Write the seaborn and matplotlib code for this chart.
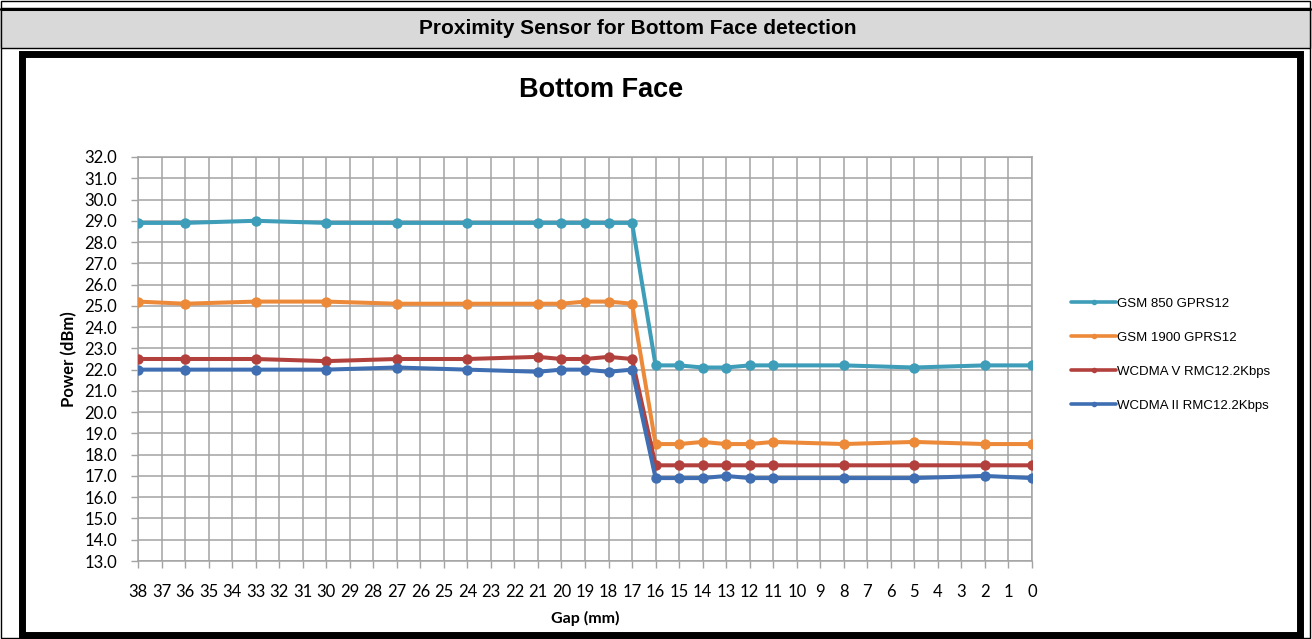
import matplotlib
matplotlib.use("Agg")
import matplotlib.pyplot as plt
from matplotlib.patches import Rectangle
from matplotlib.lines import Line2D
import seaborn as sns
import pandas as pd

gaps = [38, 36, 33, 30, 27, 24, 21, 20, 19, 18, 17, 16, 15, 14, 13, 12, 11, 8, 5, 2, 0]
gsm850 = [28.9, 28.9, 29.0, 28.9, 28.9, 28.9, 28.9, 28.9, 28.9, 28.9, 28.9,
          22.2, 22.2, 22.1, 22.1, 22.2, 22.2, 22.2, 22.1, 22.2, 22.2]
gsm1900 = [25.2, 25.1, 25.2, 25.2, 25.1, 25.1, 25.1, 25.1, 25.2, 25.2, 25.1,
           18.5, 18.5, 18.6, 18.5, 18.5, 18.6, 18.5, 18.6, 18.5, 18.5]
wcdma5 = [22.5, 22.5, 22.5, 22.4, 22.5, 22.5, 22.6, 22.5, 22.5, 22.6, 22.5,
          17.5, 17.5, 17.5, 17.5, 17.5, 17.5, 17.5, 17.5, 17.5, 17.5]
wcdma2 = [22.0, 22.0, 22.0, 22.0, 22.1, 22.0, 21.9, 22.0, 22.0, 21.9, 22.0,
          16.9, 16.9, 16.9, 17.0, 16.9, 16.9, 16.9, 16.9, 17.0, 16.9]
series_names = ["GSM 850 GPRS12", "GSM 1900 GPRS12", "WCDMA V RMC12.2Kbps", "WCDMA II RMC12.2Kbps"]
series_values = [gsm850, gsm1900, wcdma5, wcdma2]
colors = ["#3e9db8", "#ec8a3a", "#b2413e", "#3f6fb2"]

x_ticks = list(range(0, 39))
y_ticks = [13.0 + i for i in range(20)]

rows = []
for name, vals in zip(series_names, series_values):
    for g, v in zip(gaps, vals):
        rows.append({"Gap": g, "Power": v, "Series": name})
df = pd.DataFrame(rows)

sns.set_style("white")
plt.rcParams['font.family'] = ['Liberation Sans', 'DejaVu Sans']
plt.rcParams['text.color'] = 'black'
plt.rcParams['axes.labelcolor'] = 'black'
plt.rcParams['xtick.color'] = 'black'
plt.rcParams['ytick.color'] = 'black'

W, H = 1312, 639
fig = plt.figure(figsize=(W / 100, H / 100), dpi=100)

def fx(px):
    return px / W

def fy(py):
    return 1 - py / H

# outer frame, header band, chart frame
fig.patches.append(Rectangle((fx(1), fy(638)), fx(1309), 637 / H, transform=fig.transFigure,
                             facecolor="white", edgecolor="black", linewidth=1.0, zorder=-3))
fig.patches.append(Rectangle((fx(1), fy(48)), fx(1309), 40 / H, transform=fig.transFigure,
                             facecolor="#d9d9d9", edgecolor="black", linewidth=1.0, zorder=-2))
fig.add_artist(Line2D([fx(1), fx(1310)], [fy(8.5), fy(8.5)], transform=fig.transFigure,
                      color="black", linewidth=2.2, zorder=-1))
fig.patches.append(Rectangle((fx(21.5), fy(635)), fx(1300 - 21.5), (635 - 54) / H, transform=fig.transFigure,
                             facecolor="white", edgecolor="black", linewidth=5.0, zorder=-1))
fig.text(fx(638), fy(34), "Proximity Sensor for Bottom Face detection", ha="center", va="baseline",
         fontsize=15, fontweight="bold")
fig.text(fx(601), fy(97), "Bottom Face", ha="center", va="baseline",
         fontsize=19.5, fontweight="bold")

ax = fig.add_axes([fx(138), fy(561), fx(1032) - fx(138), (561 - 157) / H])
ax.set_zorder(2)
ax.set_facecolor("white")
sns.lineplot(data=df, x="Gap", y="Power", hue="Series", palette=colors, hue_order=series_names,
             marker="o", markersize=7.5, markeredgewidth=0, linewidth=2.9, sort=False,
             legend=False, ax=ax, zorder=3)

ax.set_xlim(38, 0)
ax.set_ylim(13, 32)
ax.set_xticks(x_ticks)
ax.set_xticklabels([str(t) for t in x_ticks], family=['Lato', 'DejaVu Sans'], fontsize=12)
ax.set_yticks(y_ticks)
ax.set_yticklabels([f"{t:.1f}" for t in y_ticks], family=['Lato', 'DejaVu Sans'], fontsize=12)
ax.grid(True, color="#a3a3a3", linewidth=1.1)
ax.set_axisbelow(True)
for s in ax.spines.values():
    s.set_color("#a3a3a3")
    s.set_linewidth(1.1)
ax.tick_params(axis="both", direction="out", length=5, color="#a3a3a3", width=1.0,
               bottom=True, left=True)
ax.tick_params(axis="x", pad=11.5)
ax.tick_params(axis="y", pad=10)
ax.set_xlabel("Gap (mm)", family=['Lato', 'DejaVu Sans'], fontweight="bold", fontsize=11.5, labelpad=8)
ax.set_ylabel("Power (dBm)", family=['Lato', 'DejaVu Sans'], fontweight="bold", fontsize=12, labelpad=5)

handles = [Line2D([0], [0], color=c, linewidth=2.6, marker="o", markersize=4, markeredgewidth=0)
           for c in colors]
leg = fig.legend(handles, series_names, loc="upper left", bbox_to_anchor=(fx(1066), fy(292)),
                 frameon=False, fontsize=9.5, handlelength=3.4, handletextpad=0.1,
                 labelspacing=1.65, borderaxespad=0)
leg.set_zorder(3)

fig.savefig("out.png", dpi=100)
